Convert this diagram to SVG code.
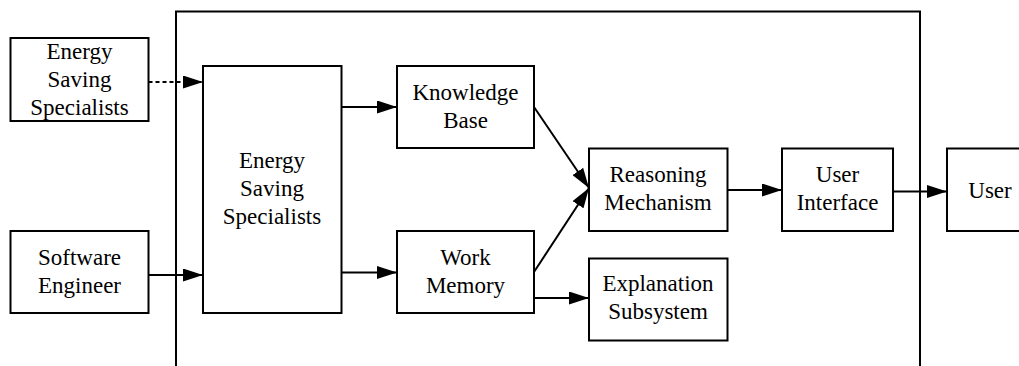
<svg xmlns="http://www.w3.org/2000/svg" width="1019" height="366" viewBox="0 0 1019 366">
  <style>
    .box { fill: #fff; stroke: #000; stroke-width: 2; }
    .frame { fill: none; stroke: #000; stroke-width: 2; }
    .edge { fill: none; stroke: #000; stroke-width: 2; marker-end: url(#arrow); }
    .dashed { stroke-dasharray: 4 3; }
    text { font-family: "Liberation Serif", "Times New Roman", serif; font-size: 23px; fill: #000; text-anchor: middle; }
  </style>
  <defs>
    <marker id="arrow" markerUnits="userSpaceOnUse" markerWidth="20" markerHeight="13" refX="20" refY="6.5" orient="auto">
      <path d="M0,0 L20,6.5 L0,13 Z" fill="#000"/>
    </marker>
  </defs>

  <!-- system boundary, open at the bottom -->
  <path class="frame" d="M176,366 V11.5 H920 V366"/>

  <g id="connectors">
    <line class="edge dashed" x1="148.5" y1="82" x2="203" y2="82"/>
    <line class="edge" x1="148.5" y1="275" x2="203" y2="275"/>
    <line class="edge" x1="341.5" y1="107" x2="397" y2="107"/>
    <line class="edge" x1="341.5" y1="272.5" x2="397" y2="272.5"/>
    <line class="edge" x1="534" y1="107" x2="589" y2="188"/>
    <line class="edge" x1="534" y1="272" x2="589" y2="188"/>
    <line class="edge" x1="534" y1="298" x2="589" y2="298"/>
    <line class="edge" x1="727.5" y1="190" x2="782" y2="190"/>
    <line class="edge" x1="893" y1="191.5" x2="947" y2="191.5"/>
  </g>

  <g id="ess-external">
    <rect class="box" x="10.5" y="38" width="138" height="83"/>
    <text x="79.5" y="58.5">Energy</text>
    <text x="79.5" y="86.5">Saving</text>
    <text x="79.5" y="114.5">Specialists</text>
  </g>

  <g id="software-engineer">
    <rect class="box" x="10.5" y="231" width="138" height="82"/>
    <text x="79.5" y="265">Software</text>
    <text x="79.5" y="293">Engineer</text>
  </g>

  <g id="ess-internal">
    <rect class="box" x="203" y="66" width="138.5" height="247"/>
    <text x="272" y="168">Energy</text>
    <text x="272" y="196">Saving</text>
    <text x="272" y="224">Specialists</text>
  </g>

  <g id="knowledge-base">
    <rect class="box" x="397" y="66" width="137" height="82"/>
    <text x="465.5" y="99.5">Knowledge</text>
    <text x="465.5" y="127.5">Base</text>
  </g>

  <g id="work-memory">
    <rect class="box" x="397" y="231" width="137" height="82"/>
    <text x="465.5" y="264.5">Work</text>
    <text x="465.5" y="292.5">Memory</text>
  </g>

  <g id="reasoning-mechanism">
    <rect class="box" x="589" y="148.5" width="138.5" height="82.5"/>
    <text x="658" y="182">Reasoning</text>
    <text x="658" y="210">Mechanism</text>
  </g>

  <g id="explanation-subsystem">
    <rect class="box" x="589" y="258.5" width="138.5" height="82"/>
    <text x="658" y="291">Explanation</text>
    <text x="658" y="319">Subsystem</text>
  </g>

  <g id="user-interface">
    <rect class="box" x="782" y="148.5" width="111" height="82.5"/>
    <text x="837.5" y="182">User</text>
    <text x="837.5" y="210">Interface</text>
  </g>

  <g id="user">
    <rect class="box" x="947" y="148.5" width="80" height="82.5"/>
    <text x="990" y="198">User</text>
  </g>
</svg>
